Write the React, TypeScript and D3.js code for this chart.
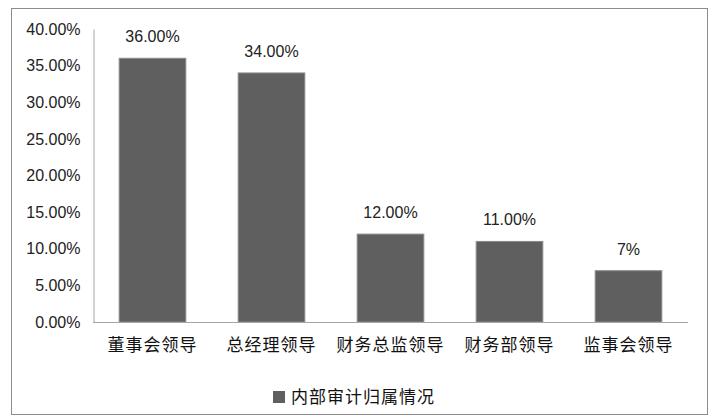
import { scaleBand, scaleLinear, select, axisLeft } from "d3";
import { useEffect, useRef } from "react";

const categories = ["董事会领导", "总经理领导", "财务总监领导", "财务部领导", "监事会领导"];
const values = [0.36, 0.34, 0.12, 0.11, 0.07];
const valueLabels = ["36.00%", "34.00%", "12.00%", "11.00%", "7%"];
const yTicks = [0, 0.05, 0.1, 0.15, 0.2, 0.25, 0.3, 0.35, 0.4];
const seriesName = "内部审计归属情况";

const W = 715;
const H = 419;
const margin = { left: 93, right: 27, top: 29, bottom: 97 };
const cjk = "'Noto Sans CJK SC', sans-serif";
const latin = "'Liberation Sans', Arial, sans-serif";

const App = () => {
  const svgRef = useRef(null);

  useEffect(() => {
    const svg = select(svgRef.current);
    svg.selectAll("*").remove();

    const x0 = margin.left;
    const x1 = W - margin.right;
    const y0 = H - margin.bottom;
    const y1 = margin.top;

    // scales
    const xScale = scaleBand().domain(categories).range([x0, x1]).paddingInner(0.44).paddingOuter(0.22);
    const yScale = scaleLinear().domain([0, 0.4]).range([y0, y1]);

    // outer frame
    svg.append("rect")
      .attr("x", 11.5).attr("y", 8.5)
      .attr("width", 696).attr("height", 406)
      .attr("fill", "#fff")
      .attr("stroke", "#8c8c8c")
      .attr("stroke-width", 1);

    // y axis
    const yAxis = svg.append("g")
      .attr("transform", `translate(${x0 + 0.5},0)`)
      .call(axisLeft(yScale).tickValues(yTicks).tickSize(0).tickPadding(13).tickFormat(d => (Number(d) * 100).toFixed(2) + "%"));
    yAxis.select(".domain").attr("stroke", "#a6a6a6");
    yAxis.selectAll("text")
      .attr("font-family", latin)
      .attr("font-size", 16)
      .attr("fill", "#222");

    // bars
    svg.selectAll("rect.bar")
      .data(values)
      .join("rect")
      .attr("class", "bar")
      .attr("x", (d, i) => xScale(categories[i])!)
      .attr("width", xScale.bandwidth())
      .attr("y", d => yScale(d))
      .attr("height", d => y0 - yScale(d))
      .attr("fill", "#5f5f5f")
      .attr("stroke", "#8a8a8a")
      .attr("stroke-width", 1);

    // x axis line
    svg.append("line")
      .attr("x1", x0).attr("x2", x1)
      .attr("y1", y0 + 0.5).attr("y2", y0 + 0.5)
      .attr("stroke", "#a6a6a6");

    // value labels
    svg.selectAll("text.val")
      .data(values)
      .join("text")
      .attr("class", "val")
      .attr("x", (d, i) => xScale(categories[i])! + xScale.bandwidth() / 2)
      .attr("y", d => yScale(d) - 16)
      .attr("text-anchor", "middle")
      .attr("font-family", latin)
      .attr("font-size", 16)
      .attr("fill", "#222")
      .text((d, i) => valueLabels[i]);

    // category labels
    svg.selectAll("text.cat")
      .data(categories)
      .join("text")
      .attr("class", "cat")
      .attr("x", d => xScale(d)! + xScale.bandwidth() / 2)
      .attr("y", y0 + 29)
      .attr("text-anchor", "middle")
      .attr("font-family", cjk)
      .attr("font-size", 17)
      .attr("letter-spacing", 1)
      .attr("fill", "#111")
      .text(d => d);

    // legend
    svg.append("rect")
      .attr("x", 273).attr("y", 391)
      .attr("width", 12).attr("height", 12)
      .attr("fill", "#5f5f5f");
    svg.append("text")
      .attr("x", 291).attr("y", 403)
      .attr("font-family", cjk)
      .attr("font-size", 17)
      .attr("letter-spacing", 1)
      .attr("fill", "#111")
      .text(seriesName);
  }, []);

  return <svg ref={svgRef} width={W} height={H} style={{ position: "absolute", left: 0, top: 0 }} />;
};

export default App;
